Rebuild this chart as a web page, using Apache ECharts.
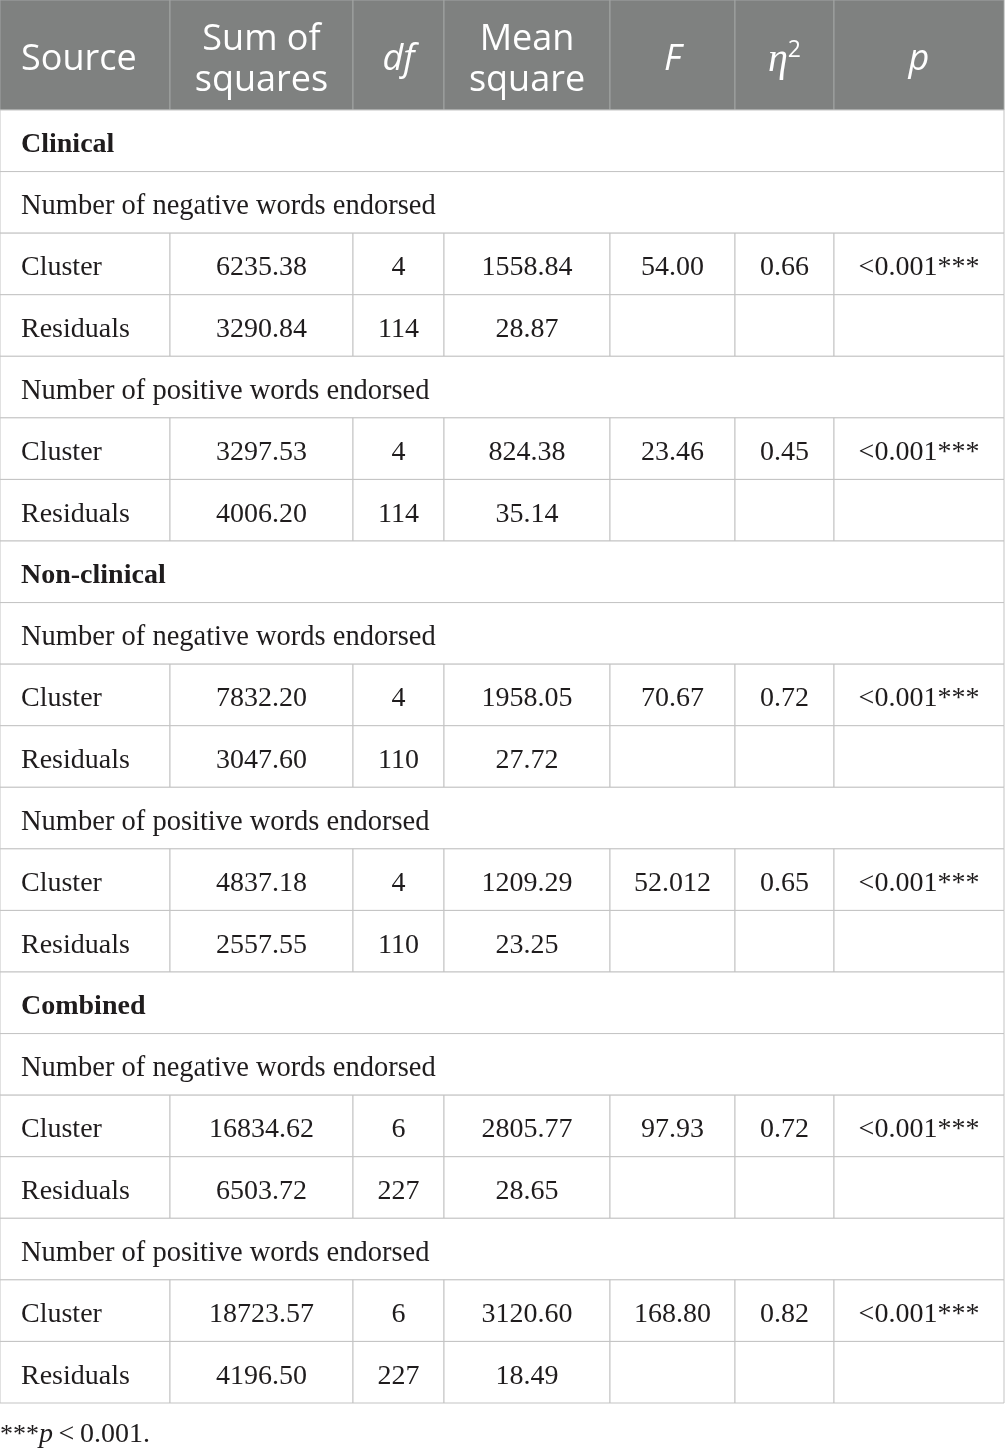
<!DOCTYPE html>
<html>
<head>
<meta charset="utf-8">
<script src="https://cdn.jsdelivr.net/npm/echarts@6/dist/echarts.min.js"></script>
<style>
html,body{margin:0;padding:0;background:#fff}
#main{width:1005px;height:1452px}
</style>
</head>
<body>
<div id="main"></div>
<script>
// table content
var headers = ['Source', 'Sum of\nsquares', 'df', 'Mean\nsquare', 'F', 'η2', 'p'];
var groups = ['Clinical', 'Non-clinical', 'Combined'];
var measures = ['Number of negative words endorsed', 'Number of positive words endorsed'];
var sources = ['Cluster', 'Residuals'];
var sumSquares = ['6235.38', '3290.84', '3297.53', '4006.20', '7832.20', '3047.60', '4837.18', '2557.55', '16834.62', '6503.72', '18723.57', '4196.50'];
var dfs = ['4', '114', '4', '114', '4', '110', '4', '110', '6', '227', '6', '227'];
var meanSquares = ['1558.84', '28.87', '824.38', '35.14', '1958.05', '27.72', '1209.29', '23.25', '2805.77', '28.65', '3120.60', '18.49'];
var fValues = ['54.00', '23.46', '70.67', '52.012', '97.93', '168.80'];
var etaSquared = ['0.66', '0.45', '0.72', '0.65', '0.72', '0.82'];
var pValues = ['<0.001***', '<0.001***', '<0.001***', '<0.001***', '<0.001***', '<0.001***'];
var footnote = ['***', 'p', '\u2009<\u20090.001.'];

// layout / style
var colWidths = [170, 183, 91, 166, 125, 99, 170];
var headBg = '#7f8180';
var headLine = '#a2a4a3';
var gridLine = '#c3c3c3';
var ink = '#1f1c1d';
var serif = '"Liberation Serif", "DejaVu Serif", serif';
var sans = '"Open Sans", "Noto Sans", sans-serif';

var edges = [0];
for (var i = 0; i < colWidths.length; i++) edges.push(edges[i] + colWidths[i]);
var totalW = edges[edges.length - 1];

// build the body rows from the arrays
var rows = [];
var k = 0, c = 0;
for (var g = 0; g < groups.length; g++) {
  rows.push({kind: 'group', label: groups[g]});
  for (var m = 0; m < measures.length; m++) {
    rows.push({kind: 'measure', label: measures[m]});
    for (var s = 0; s < sources.length; s++) {
      var cells = [sources[s], sumSquares[k], dfs[k], meanSquares[k], '', '', ''];
      if (s === 0) {
        cells[4] = fValues[c];
        cells[5] = etaSquared[c];
        cells[6] = pValues[c];
        c++;
      }
      rows.push({kind: 'data', cells: cells});
      k++;
    }
  }
}

function headerText(i) {
  if (i === 2 || i === 4 || i === 6) return '{it|' + headers[i] + '}';
  if (i === 5) return '{eta|' + headers[i].charAt(0) + '}{sup|' + headers[i].slice(1) + '}';
  return headers[i];
}

var headRich = {
  it: {fontFamily: sans, fontStyle: 'italic', fontSize: 36, fill: '#fff'},
  eta: {fontFamily: serif, fontStyle: 'italic', fontSize: 40, fill: '#fff', lineHeight: 42},
  sup: {fontFamily: sans, fontSize: 23, fill: '#fff', verticalAlign: 'top', lineHeight: 23}
};

function renderHeader(params, api) {
  var yc = api.coord([0, 0])[1];
  var h = api.size([0, 1])[1];
  var top = yc - h / 2;
  var children = [];
  for (var i = 0; i < headers.length; i++) {
    var x0 = api.coord([edges[i], 0])[0];
    var x1 = api.coord([edges[i + 1], 0])[0];
    children.push({
      type: 'rect',
      shape: {x: x0, y: top, width: x1 - x0, height: h},
      style: {fill: headBg, stroke: headLine, lineWidth: 1}
    });
    children.push({
      type: 'text',
      x: i === 0 ? x0 + 21 : (x0 + x1) / 2,
      y: yc + 5,
      style: {
        text: headerText(i),
        fill: '#fff',
        fontFamily: sans,
        fontSize: 36,
        lineHeight: 41,
        align: i === 0 ? 'left' : 'center',
        verticalAlign: 'middle',
        rich: headRich
      }
    });
  }
  return {type: 'group', children: children};
}

function renderRow(params, api) {
  var idx = params.dataIndex;
  var row = rows[idx];
  var yc = api.coord([0, idx])[1];
  var h = api.size([0, 1])[1];
  var top = yc - h / 2;
  var left = api.coord([0, idx])[0];
  var right = api.coord([totalW, idx])[0];
  var children = [];
  if (row.kind !== 'data') {
    children.push({
      type: 'rect',
      shape: {x: left, y: top, width: right - left, height: h},
      style: {fill: '#fff', stroke: gridLine, lineWidth: 1}
    });
    children.push({
      type: 'text',
      x: left + 21,
      y: yc + 4,
      style: {
        text: row.label,
        fill: ink,
        fontFamily: serif,
        fontSize: row.kind === 'group' ? 28 : 28.5,
        fontWeight: row.kind === 'group' ? 'bold' : 'normal',
        align: 'left',
        verticalAlign: 'middle'
      }
    });
    return {type: 'group', children: children};
  }
  for (var i = 0; i < row.cells.length; i++) {
    var x0 = api.coord([edges[i], idx])[0];
    var x1 = api.coord([edges[i + 1], idx])[0];
    children.push({
      type: 'rect',
      shape: {x: x0, y: top, width: x1 - x0, height: h},
      style: {fill: '#fff', stroke: gridLine, lineWidth: 1}
    });
    if (row.cells[i] === '') continue;
    children.push({
      type: 'text',
      x: i === 0 ? x0 + 21 : (x0 + x1) / 2,
      y: yc + 4,
      style: {
        text: row.cells[i],
        fill: ink,
        fontFamily: serif,
        fontSize: 28,
        align: i === 0 ? 'left' : 'center',
        verticalAlign: 'middle'
      }
    });
  }
  return {type: 'group', children: children};
}

var chart = echarts.init(document.getElementById('main'), null, {renderer: 'canvas'});
chart.setOption({
  animation: false,
  backgroundColor: '#fff',
  title: {
    left: 0,
    top: 1420,
    padding: 0,
    text: '{st|' + footnote[0] + '}{it|' + footnote[1] + '}{n|' + footnote[2] + '}',
    textStyle: {
      fontWeight: 'normal',
      rich: {
        st: {fontFamily: serif, fontSize: 26, fontWeight: 'normal', color: ink, lineHeight: 30},
        it: {fontFamily: serif, fontStyle: 'italic', fontWeight: 'normal', fontSize: 28, color: ink, lineHeight: 30},
        n: {fontFamily: serif, fontSize: 28, fontWeight: 'normal', color: ink, lineHeight: 30}
      }
    }
  },
  grid: [
    {left: 0, top: 0, width: totalW, height: 110},
    {left: 0, top: 110, width: totalW, height: 1293}
  ],
  xAxis: [
    {type: 'value', gridIndex: 0, min: 0, max: totalW, show: false},
    {type: 'value', gridIndex: 1, min: 0, max: totalW, show: false}
  ],
  yAxis: [
    {type: 'category', gridIndex: 0, data: ['header'], show: false},
    {type: 'category', gridIndex: 1, inverse: true, show: false,
      data: rows.map(function (r, i) { return String(i); })}
  ],
  series: [
    {
      type: 'custom',
      xAxisIndex: 0,
      yAxisIndex: 0,
      silent: true,
      renderItem: renderHeader,
      data: [[0, 0]]
    },
    {
      type: 'custom',
      xAxisIndex: 1,
      yAxisIndex: 1,
      silent: true,
      renderItem: renderRow,
      data: rows.map(function (r, i) { return [0, i]; })
    }
  ]
});
</script>
</body>
</html>
